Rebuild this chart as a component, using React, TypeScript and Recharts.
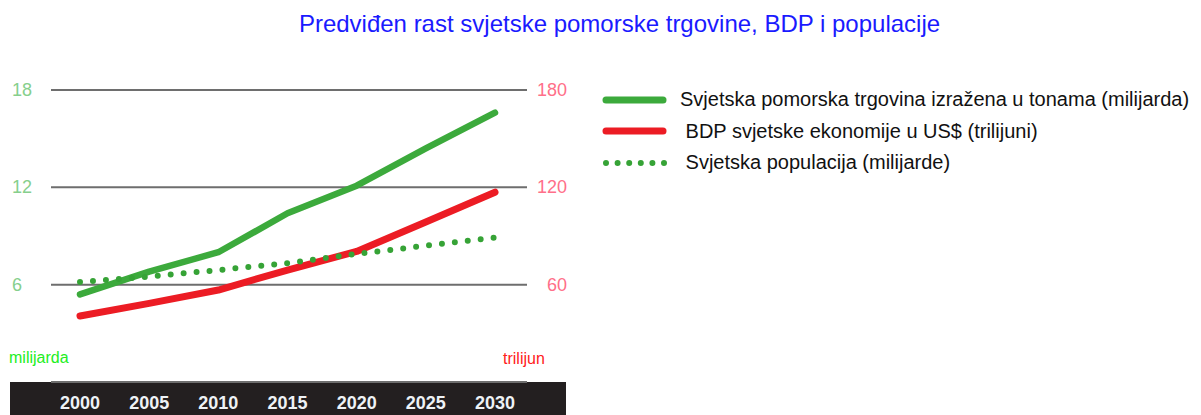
import { LineChart, Line, XAxis, YAxis, CartesianGrid, Legend } from 'recharts'

const years = ['2000', '2005', '2010', '2015', '2020', '2025', '2030']
const seaTrade = [5.4, 6.8, 8.0, 10.4, 12.1, 14.4, 16.6]
const worldGdp = [40.7, 48.5, 56.7, 69, 80.5, 98.6, 117]
const population = [6.16, 6.5, 6.9, 7.33, 7.9, 8.4, 8.9]

const leftTicks = [6, 12, 18]
const rightTicks = [60, 120, 180]

const SERIES = [
  { key: 'trade', name: 'Svjetska pomorska trgovina izražena u tonama (milijarda)', color: '#3caa3c', axis: 'left', dotted: false },
  { key: 'gdp', name: ' BDP svjetske ekonomije u US$ (trilijuni)', color: '#ec1c24', axis: 'right', dotted: false },
  { key: 'pop', name: ' Svjetska populacija (milijarde)', color: '#36a336', axis: 'left', dotted: true },
]

const data = years.map((year, i) => ({
  year,
  trade: seaTrade[i],
  gdp: worldGdp[i],
  pop: population[i],
}))

const FONT = '"Liberation Sans", Arial, sans-serif'

const LeftTick = ({ y, payload }: any) => (
  <text x={12} y={y} dy={6} fill="#86cf8c" fontSize={18} fontFamily={FONT} textAnchor="start">
    {payload.value}
  </text>
)

const RightTick = ({ y, payload }: any) => (
  <text x={567} y={y} dy={6} fill="#ff6f89" fontSize={18} fontFamily={FONT} textAnchor="end">
    {payload.value}
  </text>
)

const YearTick = ({ x, payload }: any) => (
  <text x={x} y={402} dy={7} fill="#eef2f6" fontSize={18} fontWeight="bold" fontFamily={FONT} textAnchor="middle">
    {payload.value}
  </text>
)

const LegendContent = ({ payload }: any) => {
  const items = SERIES.map((s) => ({ s, entry: (payload || []).find((p: any) => p.dataKey === s.key) }))
  return (
    <div style={{ fontFamily: FONT, fontSize: 20, color: '#111' }}>
      {items.map(({ s, entry }) => (
        <div key={s.key} style={{ display: 'flex', alignItems: 'center', height: 31.5 }}>
          <svg width={84} height={12}>
            <line
              x1={10}
              y1={6}
              x2={s.dotted ? 70 : 67}
              y2={6}
              stroke={entry?.color ?? s.color}
              strokeWidth={s.dotted ? 6 : 7}
              strokeLinecap="round"
              strokeDasharray={s.dotted ? '0 11.6' : undefined}
            />
          </svg>
          <span style={{ whiteSpace: 'pre' }}>{entry?.value ?? s.name}</span>
        </div>
      ))}
    </div>
  )
}

export default function App() {
  return (
    <div style={{ position: 'absolute', left: 0, top: 0, width: 1201, height: 415, background: '#fff', overflow: 'hidden' }}>
      <div
        style={{
          position: 'absolute',
          left: 0,
          top: 10,
          width: 1239,
          textAlign: 'center',
          fontFamily: FONT,
          fontSize: 24,
          color: '#1a1aff',
        }}
      >
        Predviđen rast svjetske pomorske trgovine, BDP i populacije
      </div>
      <div style={{ position: 'absolute', left: 10, top: 382, width: 556, height: 33, background: '#231f20' }} />
      <div style={{ position: 'absolute', left: 9, top: 349, fontFamily: FONT, fontSize: 16, color: '#22ee22' }}>milijarda</div>
      <div style={{ position: 'absolute', left: 503, top: 350, fontFamily: FONT, fontSize: 16, color: '#ff2020' }}>trilijun</div>
      <div style={{ position: 'absolute', left: 0, top: 0 }}>
        <LineChart width={1201} height={415} data={data} margin={{ top: 90, right: 0, bottom: 0, left: 0 }}>
          <CartesianGrid yAxisId="left" vertical={false} stroke="#6e6e6e" strokeWidth={2} />
          <XAxis
            dataKey="year"
            height={33}
            axisLine={false}
            tickLine={false}
            padding={{ left: 29, right: 32 }}
            tick={<YearTick />}
            interval={0}
          />
          <YAxis
            yAxisId="left"
            orientation="left"
            width={51}
            domain={[0, 18]}
            ticks={leftTicks}
            axisLine={false}
            tickLine={false}
            tick={<LeftTick />}
          />
          <YAxis
            yAxisId="right"
            orientation="right"
            width={674}
            domain={[0, 180]}
            ticks={rightTicks}
            axisLine={false}
            tickLine={false}
            tick={<RightTick />}
          />
          <Legend
            layout="vertical"
            align="center"
            verticalAlign="middle"
            content={<LegendContent />}
            wrapperStyle={{ position: 'absolute', left: 596, top: 84, width: 605 }}
          />
          {SERIES.map((s) => (
            <Line
              key={s.key}
              yAxisId={s.axis}
              type="linear"
              dataKey={s.key}
              name={s.name}
              stroke={s.color}
              strokeWidth={s.dotted ? 6 : s.key === 'gdp' ? 7 : 6.5}
              strokeLinecap="round"
              strokeLinejoin="round"
              strokeDasharray={s.dotted ? '0 13' : undefined}
              dot={false}
              activeDot={false}
              isAnimationActive={false}
            />
          ))}
        </LineChart>
      </div>
    </div>
  )
}
